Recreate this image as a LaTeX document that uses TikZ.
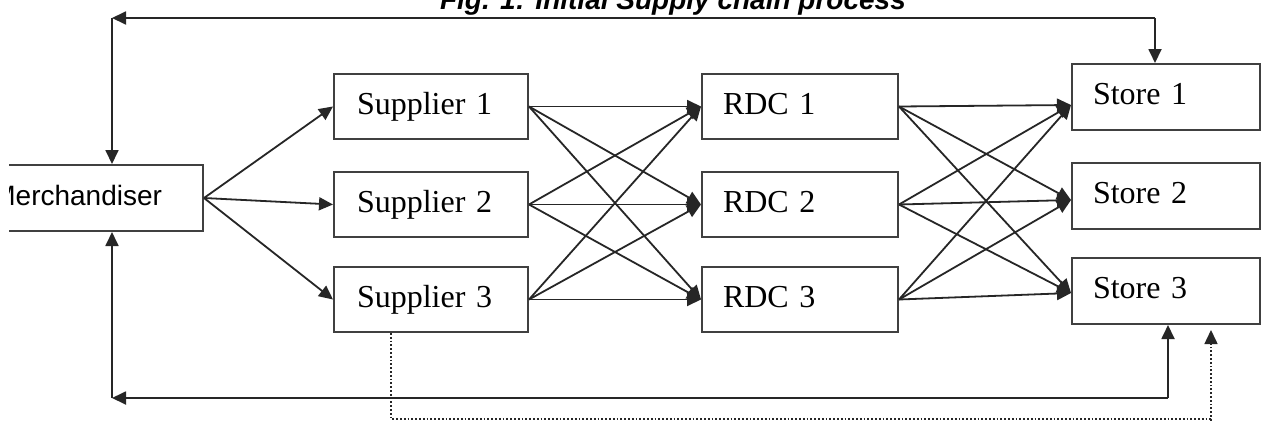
\documentclass[tikz,border=0pt]{standalone}
\usepackage{fontspec}
\setmainfont{Liberation Serif}
\newfontfamily\arialfont{Liberation Sans}
\usetikzlibrary{arrows.meta}
\begin{document}
\begin{tikzpicture}[x=1pt,y=1pt,
  box/.style={draw=black!75, line width=2pt, rectangle, minimum height=65pt, inner ysep=0pt,
    font=\fontsize{32}{36}\selectfont, text height=22pt, text depth=7pt, align=left},
  conn/.style={draw=black!85, line width=1.8pt, -{Triangle[length=14pt,width=13pt]}},
  dotconn/.style={conn, dotted, line width=1.5pt},
  ]
\useasboundingbox (0,0) rectangle (1261,-421);
\fill[white] (0,0) rectangle (1261,-421);
\begin{scope}
\clip (9,0) rectangle (1261,-421);
\node[font=\arialfont\bfseries\itshape\fontsize{28}{32}\selectfont, anchor=base east, inner sep=0pt] (title) at (906,-9) {Fig. 1: Initial Supply chain process};

\node[box, anchor=north east, font=\arialfont\fontsize{28}{32}\selectfont, text width=180pt, inner xsep=41pt, align=right, minimum height=66pt] (m) at (204,-164) {Merchandiser};

\node[box, anchor=north west, text width=148pt, inner xsep=23pt] (s1) at (333,-73) {Supplier 1};
\node[box, anchor=north west, text width=148pt, inner xsep=23pt] (s2) at (333,-171) {Supplier 2};
\node[box, anchor=north west, text width=148pt, inner xsep=23pt] (s3) at (333,-266) {Supplier 3};

\node[box, anchor=north west, text width=154pt, inner xsep=21pt] (r1) at (701,-73) {RDC 1};
\node[box, anchor=north west, text width=154pt, inner xsep=21pt] (r2) at (701,-171) {RDC 2};
\node[box, anchor=north west, text width=154pt, inner xsep=21pt] (r3) at (701,-266) {RDC 3};

\node[box, anchor=north west, text width=146pt, inner xsep=21pt, minimum height=66pt] (st1) at (1071,-63) {Store 1};
\node[box, anchor=north west, text width=146pt, inner xsep=21pt, minimum height=66pt] (st2) at (1071,-162) {Store 2};
\node[box, anchor=north west, text width=146pt, inner xsep=21pt, minimum height=66pt] (st3) at (1071,-257) {Store 3};

\coordinate (t1) at ([yshift=-8pt]st1.west);
\coordinate (t2) at ([yshift=-4pt]st2.west);
\coordinate (t3) at ([yshift=-2pt]st3.west);

\foreach \i in {1,2,3} {
  \draw[conn] (m.east) -- (s\i.west);
  \foreach \j in {1,2,3} {
    \draw[conn] (s\i.east) -- (r\j.west);
    \draw[conn] (r\i.east) -- (t\j);
  }
}

\coordinate (tl) at (112,-18);
\coordinate (tr) at (1155,-18);
\draw[conn] (tr) -- (tl);
\draw[conn] (tl) -- (tl |- m.north);
\draw[conn] (tr) -- (tr |- st1.north);

\coordinate (bl) at (112,-398);
\coordinate (br) at (1168,-398);
\draw[conn] (bl) -- (bl |- m.south);
\draw[conn] (br) -- (bl);
\draw[conn] (br) -- (br |- st3.south);

\coordinate (dl) at (391,-419);
\coordinate (dr) at (1211,-419);
\draw[dotconn, shorten >=5pt] (dl |- s3.south) -- (dl) -- (dr) -- (dr |- st3.south);
\draw[dotted, line width=1.5pt, draw=black!85] (dr) -- (1211,-425);
\end{scope}
\end{tikzpicture}
\end{document}
